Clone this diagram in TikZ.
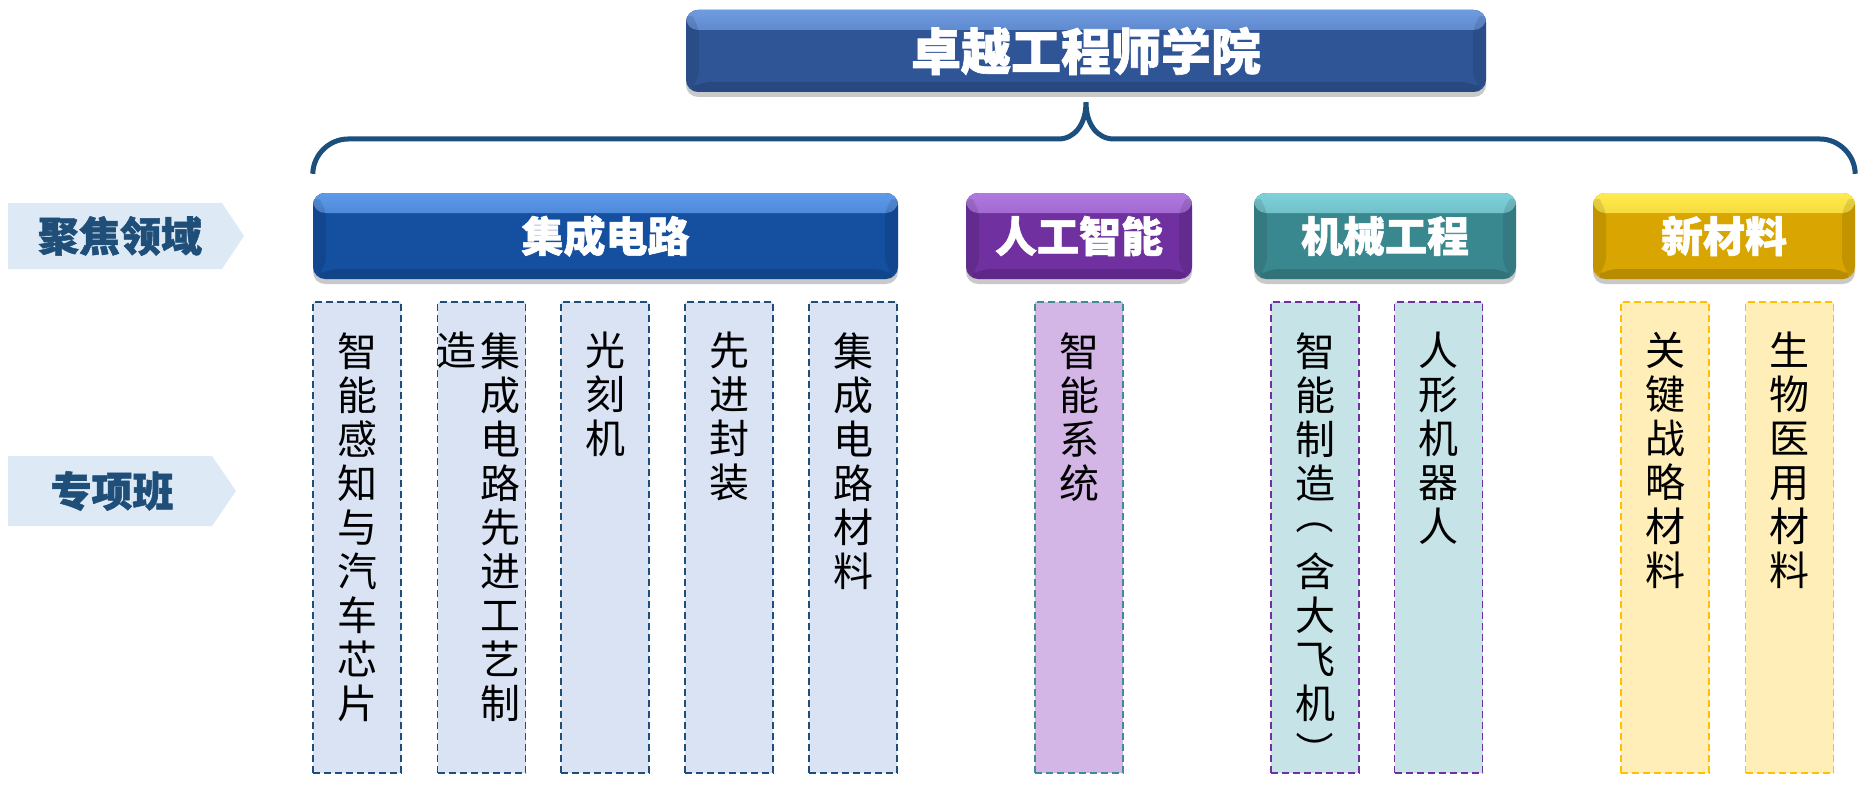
\documentclass[tikz,border=0pt]{standalone}
\usepackage{fontspec}
\newfontfamily\cjk{Noto Sans CJK SC}[BoldFeatures={FakeBold=1.3}]
\usetikzlibrary{shadows}
\definecolor{bracec}{HTML}{1B4F7E}
\definecolor{titlebase}{HTML}{2F5597}
\definecolor{titlelight}{HTML}{6F9BE0}
\definecolor{icbase}{HTML}{1550A0}
\definecolor{iclight}{HTML}{5E9BEA}
\definecolor{aibase}{HTML}{7030A0}
\definecolor{ailight}{HTML}{B07AE0}
\definecolor{mebase}{HTML}{3A888F}
\definecolor{melight}{HTML}{80D2DA}
\definecolor{nmbase}{HTML}{D9A500}
\definecolor{nmlight}{HTML}{FFEC50}
\definecolor{labfillc}{HTML}{DDEAF6}
\definecolor{labtextc}{HTML}{1F4E79}
\definecolor{icfill}{HTML}{DAE3F3}
\definecolor{icdash}{HTML}{1F4E79}
\definecolor{aifill}{HTML}{D4B6E6}
\definecolor{aidash}{HTML}{3D8C96}
\definecolor{mefill}{HTML}{C6E4E8}
\definecolor{medash}{HTML}{7030A0}
\definecolor{nmfill}{HTML}{FFEEB8}
\definecolor{nmdash}{HTML}{FFC000}
\newcommand{\gapline}{\rule{0pt}{30pt}}
\begin{document}
\begin{tikzpicture}[x=1pt,y=-1pt,
  bevel/.style n args={2}{rounded corners=12pt, fill=#1, inner sep=0pt, text=white,
    drop shadow={shadow xshift=0pt, shadow yshift=-5pt, opacity=0.3, fill=black!70, path picture={}},
    path picture={
      \fill[top color=#2, bottom color=#1] (path picture bounding box.north west) rectangle ([yshift=-20pt]path picture bounding box.north east);
      \fill[black, opacity=0.10] (path picture bounding box.north west) -- ++(13pt,-13pt) -- ([xshift=13pt,yshift=10pt]path picture bounding box.south west) -- (path picture bounding box.south west) -- cycle;
      \fill[black, opacity=0.10] (path picture bounding box.north east) -- ++(-13pt,-13pt) -- ([xshift=-13pt,yshift=10pt]path picture bounding box.south east) -- (path picture bounding box.south east) -- cycle;
      \fill[black, opacity=0.15] (path picture bounding box.south west) -- ++(13pt,10pt) -- ([xshift=-13pt,yshift=10pt]path picture bounding box.south east) -- (path picture bounding box.south east) -- cycle;
    }},
  hdr/.style={minimum height=86pt, font=\cjk\bfseries\fontsize{42}{42}\selectfont},
  labfill/.style={fill=labfillc},
  labtext/.style={text=labtextc, inner sep=0pt, font=\cjk\bfseries\fontsize{41}{41}\selectfont},
  dbox/.style n args={2}{draw=#1, fill=#2, dash pattern=on 7pt off 4pt, line width=1.8pt,
    minimum width=88pt, minimum height=471pt, inner sep=0pt},
  vt/.style={anchor=north, inner sep=0pt, align=center, text=black, font=\cjk\fontsize{40}{44}\selectfont},
  vpar/.style={inner sep=0pt, rotate=-90, text=black, font=\cjk\fontsize{38}{38}\selectfont},
  bracestyle/.style={draw=bracec, line width=5pt}
]
\useasboundingbox (0,0) rectangle (1864,789);

% title
\node[bevel={titlebase}{titlelight}, minimum width=800pt, minimum height=82pt,
      font=\cjk\bfseries\fontsize{50}{50}\selectfont] (title) at (1086,51) {卓越工程师学院};

% category headers
\node[bevel={icbase}{iclight}, hdr, minimum width=585pt] (h1) at (605.5,236) {集成电路};
\node[bevel={aibase}{ailight}, hdr, minimum width=226pt] (h2) at (1079,236) {人工智能};
\node[bevel={mebase}{melight}, hdr, minimum width=262pt] (h3) at (1385,236) {机械工程};
\node[bevel={nmbase}{nmlight}, hdr, minimum width=262pt] (h4) at (1724,236) {新材料};

% brace
\coordinate (bL) at ([yshift=19pt]h1.north west);
\coordinate (bR) at ([yshift=19pt]h4.north east);
\coordinate (bM) at ([yshift=-10pt]title.south);
\draw[bracestyle] (bL) .. controls (313,155) and (329,139) .. (348,139) -- (1058,139)
  .. controls (1075,139) and (1086,124) .. (bM)
  .. controls (1086,124) and (1097,139) .. (1114,139) -- (1820,139)
  .. controls (1839,139) and (1855,155) .. (bR);

% left labels
\fill[labfill] (8,203) -- (222,203) -- (244,236) -- (222,269) -- (8,269) -- cycle;
\node[labtext] (L1) at (120,236) {聚焦领域};
\fill[labfill] (8,456) -- (212,456) -- (236,491) -- (212,526) -- (8,526) -- cycle;
\node[labtext] (L2) at (112,491) {专项班};

% dashed boxes
\node[dbox={icdash}{icfill}] (d1) at (357,537.5) {};
\node[dbox={icdash}{icfill}] (d2) at (481.5,537.5) {};
\node[dbox={icdash}{icfill}] (d3) at (605,537.5) {};
\node[dbox={icdash}{icfill}] (d4) at (729,537.5) {};
\node[dbox={icdash}{icfill}] (d5) at (853,537.5) {};
\node[dbox={aidash}{aifill}] (d6) at (1079,537.5) {};
\node[dbox={medash}{mefill}] (d7) at (1315,537.5) {};
\node[dbox={medash}{mefill}] (d8) at (1438.5,537.5) {};
\node[dbox={nmdash}{nmfill}] (d9) at (1665,537.5) {};
\node[dbox={nmdash}{nmfill}] (d10) at (1789.5,537.5) {};

% vertical texts
\node[vt] (t1) at ([yshift=-31pt]d1.north) {智\\能\\感\\知\\与\\汽\\车\\芯\\片};
\node[vt] (t2) at ([xshift=18.5pt,yshift=-31pt]d2.north) {集\\成\\电\\路\\先\\进\\工\\艺\\制};
\node[vt] (t2b) at ([xshift=-25.5pt,yshift=-31pt]d2.north) {造};
\node[vt] (t3) at ([yshift=-31pt]d3.north) {光\\刻\\机};
\node[vt] (t4) at ([yshift=-31pt]d4.north) {先\\进\\封\\装};
\node[vt] (t5) at ([yshift=-31pt]d5.north) {集\\成\\电\\路\\材\\料};
\node[vt] (t6) at ([yshift=-31pt]d6.north) {智\\能\\系\\统};
\node[vt] (t7) at ([yshift=-31pt]d7.north) {智\\能\\制\\造\\\gapline\\含\\大\\飞\\机\\\gapline};
\node[vpar] (p1) at ([yshift=-214pt]d7.north) {（};
\node[vpar] (p2) at ([yshift=-449pt]d7.north) {）};
\node[vt] (t8) at ([yshift=-31pt]d8.north) {人\\形\\机\\器\\人};
\node[vt] (t9) at ([yshift=-31pt]d9.north) {关\\键\\战\\略\\材\\料};
\node[vt] (t10) at ([yshift=-31pt]d10.north) {生\\物\\医\\用\\材\\料};
\end{tikzpicture}
\end{document}
